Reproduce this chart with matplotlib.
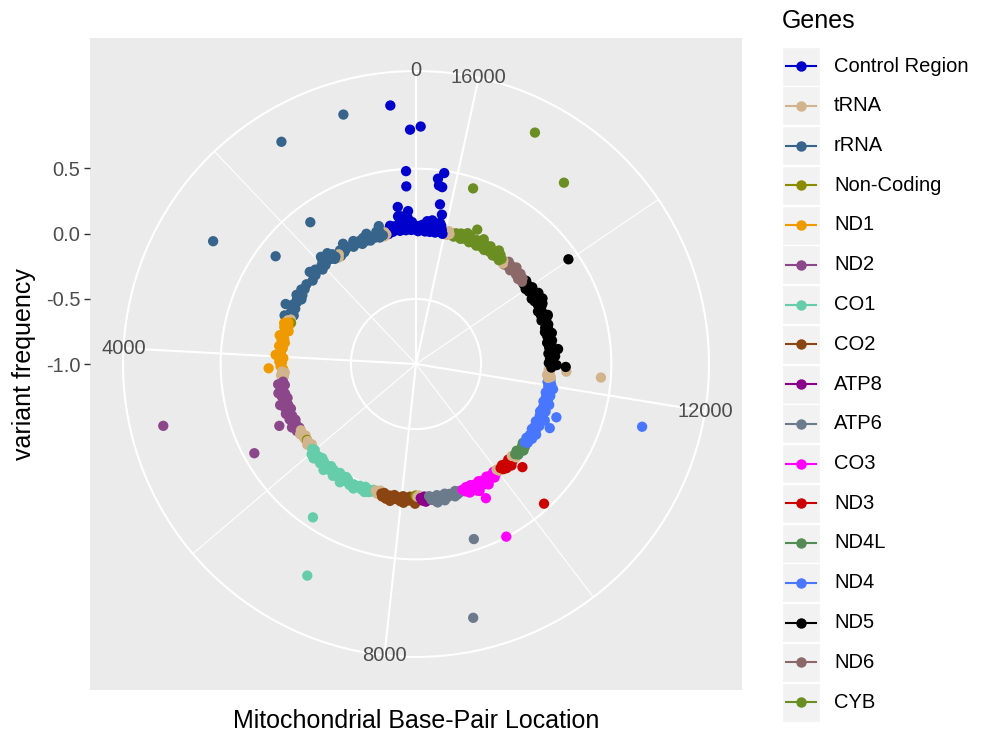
import numpy as np
import matplotlib.pyplot as plt
from matplotlib.patches import Rectangle

plt.rcParams['font.family'] = ['Liberation Sans', 'DejaVu Sans']

# mitochondrial genome length (bp), theta runs 0 -> genome_len
genome_len = 16569

gene_names = ['Control Region', 'tRNA', 'rRNA', 'Non-Coding', 'ND1', 'ND2', 'CO1', 'CO2',
              'ATP8', 'ATP6', 'CO3', 'ND3', 'ND4L', 'ND4', 'ND5', 'ND6', 'CYB']
gene_colors = ['#0000CD', '#D2B48C', '#36648B', '#8B8B00', '#EE9A00', '#8B4789', '#66CDAA',
               '#8B4513', '#8B008B', '#6C7B8B', '#FF00FF', '#CD0000', '#548B54', '#4876FF',
               '#000000', '#8B6969', '#6B8E23']

# (position, variant frequency) per gene
control = [(16040, 0.02), (16069, 0.05), (16093, 0.08), (16111, 0.03), (16116, 0.164), (16126, 0.10),
           (16145, 0.04), (16163, 0.07), (16176, 0.24), (16181, 0.373), (16182, 0.482), (16189, 0.02),
           (16209, 0.06), (16223, 0.09), (16232, 0.383), (16241, 0.03), (16256, 0.05), (16258, 0.433),
           (16271, 0.11), (16294, 0.02), (16304, 0.07), (16311, 0.04), (16319, 0.08), (16343, 0.03),
           (16355, 0.06), (16362, 0.10), (16390, 0.02), (16399, 0.05), (16428, 0.03), (16447, 0.07),
           (16482, 0.04), (16517, 0.824), (16519, 0.06), (16527, 0.02), (16544, 0.05), (16566, 0.03),
           (67, 0.80), (73, 0.09), (93, 0.03), (114, 0.06), (136, 0.483), (137, 0.176), (144, 0.366),
           (146, 0.12), (150, 0.08), (152, 0.04), (185, 0.10), (189, 0.06), (195, 0.13), (199, 0.03),
           (204, 0.07), (207, 0.05), (228, 0.11), (235, 0.04), (247, 0.08), (261, 0.995), (263, 0.14),
           (295, 0.05), (305, 0.214), (310, 0.09), (316, 0.03), (319, 0.142), (340, 0.06), (374, 0.04),
           (410, 0.07), (456, 0.03), (489, 0.08), (499, 0.04), (513, 0.06), (545, 0.02)]
trna = [(593, 0.02), (617, 0.04), (640, 0.01), (1618, 0.03), (1656, 0.01), (3243, 0.02), (3276, 0.04),
        (4290, 0.03), (4317, 0.01), (4360, 0.04), (4392, 0.02), (4440, 0.03), (5521, 0.02), (5580, 0.04),
        (5633, 0.03), (5655, 0.01), (5702, 0.03), (5773, 0.02), (5826, 0.04), (5843, 0.02), (5874, 0.01),
        (7476, 0.02), (7521, 0.04), (7562, 0.01), (8311, 0.02), (8343, 0.01), (10006, 0.02), (10034, 0.04),
        (10410, 0.02), (10446, 0.05), (12150, 0.02), (12172, 0.04), (12207, 0.01), (12234, 0.424),
        (12236, 0.03), (12292, 0.156), (12308, 0.02), (14690, 0.02), (14720, 0.04), (15904, 0.03),
        (15928, 0.05), (15944, 0.02), (15968, 0.04), (16000, 0.02)]
rrna = [(663, 0.02), (695, 0.097), (709, 0.05), (736, 0.01), (747, 0.995), (750, 0.03), (769, 0.06),
        (827, 0.02), (921, 0.04), (930, 0.01), (960, 0.07), (1005, 0.03), (1018, 0.02), (1048, 0.05),
        (1107, 0.01), (1119, 0.04), (1189, 0.03), (1243, 0.06), (1291, 0.02), (1393, 0.04), (1436, 0.995),
        (1438, 0.08), (1462, 0.03), (1503, 0.02), (1555, 0.05), (1598, 0.01), (1689, 0.358), (1700, 0.03),
        (1719, 0.06), (1736, 0.02), (1780, 0.09), (1811, 0.04), (1830, 0.07), (1888, 0.07), (1914, 0.10),
        (1927, 0.08), (1950, 0.03), (2005, 0.05), (2056, 0.02), (2098, 0.04), (2158, 0.06), (2232, 0.03),
        (2259, 0.08), (2352, 0.02), (2416, 0.359), (2483, 0.04), (2581, 0.03), (2623, 0.05), (2706, 0.02),
        (2707, 0.821), (2758, 0.06), (2789, 0.01), (2831, 0.04), (2885, 0.03), (2956, 0.05), (3005, 0.102),
        (3010, 0.02), (3106, 0.04), (3147, 0.01), (3197, 0.03), (3208, 0.076)]
noncoding = [(3306, 0.01), (5745, 0.02), (8276, 0.01)]
nd1 = [(3316, 0.03), (3348, 0.06), (3394, 0.02), (3423, 0.05), (3480, 0.01), (3552, 0.04), (3594, 0.07),
       (3645, 0.03), (3666, 0.05), (3720, 0.02), (3796, 0.06), (3834, 0.03), (3915, 0.04), (3970, 0.08),
       (4025, 0.02), (4093, 0.05), (4117, 0.03), (4188, 0.04), (4219, 0.132), (4248, 0.02)]
nd2 = [(4491, 0.03), (4529, 0.07), (4561, 0.02), (4580, 0.05), (4655, 0.04), (4694, 0.08), (4732, 0.03),
       (4769, 0.06), (4775, 0.998), (4824, 0.02), (4883, 0.05), (4917, 0.09), (4960, 0.03), (5004, 0.06),
       (5046, 0.02), (5108, 0.07), (5147, 0.04), (5186, 0.03), (5231, 0.06), (5263, 0.152), (5285, 0.02),
       (5301, 0.05), (5351, 0.03), (5390, 0.07), (5442, 0.04), (5460, 0.02), (5472, 0.418), (5493, 0.05)]
co1 = [(5951, 0.03), (5999, 0.02), (6023, 0.06), (6071, 0.04), (6104, 0.07), (6152, 0.03), (6179, 0.05),
       (6221, 0.02), (6260, 0.06), (6296, 0.03), (6366, 0.04), (6392, 0.08), (6455, 0.02), (6506, 0.05),
       (6548, 0.03), (6599, 0.07), (6662, 0.04), (6680, 0.02), (6724, 0.419), (6734, 0.06), (6755, 0.03),
       (6776, 0.08), (6827, 0.02), (6866, 0.05), (6881, 0.03), (6962, 0.06), (7028, 0.04), (7033, 0.827),
       (7055, 0.07), (7146, 0.03), (7197, 0.05), (7256, 0.02), (7274, 0.06), (7322, 0.03), (7346, 0.049),
       (7389, 0.04), (7424, 0.02)]
co2 = [(7598, 0.03), (7624, 0.05), (7650, 0.02), (7705, 0.06), (7762, 0.03), (7789, 0.07), (7805, 0.04),
       (7853, 0.02), (7864, 0.05), (7912, 0.03), (7981, 0.06), (8020, 0.04), (8027, 0.02), (8047, 0.07),
       (8080, 0.03), (8143, 0.05), (8164, 0.02), (8206, 0.04), (8251, 0.06), (8260, 0.02), (8266, 0.073)]
atp8 = [(8378, 0.03), (8410, 0.05), (8450, 0.02), (8473, 0.06), (8503, 0.03), (8526, 0.04)]
atp6 = [(8545, 0.02), (8584, 0.05), (8610, 0.03), (8655, 0.06), (8695, 0.076), (8701, 0.02), (8748, 0.04),
        (8794, 0.03), (8836, 0.07), (8860, 0.02), (8869, 0.998), (8905, 0.05), (8950, 0.03), (8994, 0.04),
        (9042, 0.06), (9071, 0.02), (9102, 0.05), (9126, 0.416), (9150, 0.03), (9190, 0.04)]
co3 = [(9221, 0.03), (9266, 0.05), (9300, 0.02), (9329, 0.07), (9380, 0.04), (9399, 0.02), (9449, 0.06),
       (9472, 0.080), (9477, 0.03), (9509, 0.09), (9540, 0.05), (9551, 0.162), (9555, 0.496), (9575, 0.02),
       (9611, 0.06), (9644, 0.03), (9698, 0.04), (9716, 0.08), (9758, 0.02), (9804, 0.05), (9839, 0.03),
       (9883, 0.06), (9926, 0.02), (9962, 0.04)]
nd3 = [(10084, 0.03), (10115, 0.05), (10143, 0.02), (10172, 0.06), (10211, 0.03), (10238, 0.04),
       (10241, 0.455), (10275, 0.07), (10310, 0.02), (10355, 0.05), (10388, 0.03), (10397, 0.138)]
nd4l = [(10480, 0.03), (10519, 0.05), (10550, 0.02), (10589, 0.04), (10640, 0.06), (10688, 0.03),
        (10720, 0.05), (10750, 0.02)]
nd4 = [(10781, 0.03), (10810, 0.05), (10873, 0.02), (10915, 0.06), (10960, 0.03), (11002, 0.04),
       (11025, 0.07), (11080, 0.02), (11119, 0.05), (11152, 0.03), (11200, 0.06), (11248, 0.139),
       (11251, 0.02), (11299, 0.04), (11335, 0.08), (11380, 0.03), (11428, 0.05), (11467, 0.02),
       (11470, 0.153), (11500, 0.06), (11551, 0.03), (11590, 0.04), (11641, 0.07), (11674, 0.02),
       (11713, 0.802), (11719, 0.05), (11776, 0.03), (11812, 0.06), (11860, 0.02), (11914, 0.04),
       (11947, 0.07), (11986, 0.03), (12026, 0.05), (12071, 0.02), (12108, 0.04)]
nd5 = [(12358, 0.04), (12375, 0.150), (12406, 0.08), (12447, 0.02), (12501, 0.05), (12531, 0.03),
       (12574, 0.07), (12609, 0.04), (12633, 0.02), (12681, 0.06), (12703, 0.097), (12753, 0.03),
       (12810, 0.05), (12850, 0.02), (12879, 0.06), (12930, 0.04), (12977, 0.03), (13020, 0.07),
       (13065, 0.02), (13105, 0.05), (13145, 0.03), (13194, 0.06), (13260, 0.04), (13305, 0.02),
       (13347, 0.074), (13368, 0.08), (13405, 0.03), (13434, 0.05), (13500, 0.02), (13563, 0.06),
       (13605, 0.077), (13617, 0.04), (13650, 0.07), (13688, 0.094), (13708, 0.03), (13759, 0.05),
       (13780, 0.02), (13815, 0.087), (13828, 0.06), (13880, 0.04), (13928, 0.03), (13966, 0.07),
       (14008, 0.02), (14014, 0.420), (14070, 0.05), (14110, 0.03), (14133, 0.06)]
nd6 = [(14167, 0.03), (14212, 0.05), (14258, 0.02), (14305, 0.06), (14350, 0.03), (14398, 0.04),
       (14445, 0.07), (14492, 0.02), (14540, 0.05), (14582, 0.03), (14625, 0.06), (14660, 0.02)]
cyb = [(14764, 0.797), (14766, 0.04), (14793, 0.02), (14831, 0.06), (14872, 0.03), (14905, 0.08),
       (14950, 0.02), (14988, 0.05), (15043, 0.03), (15079, 0.07), (15112, 0.04), (15148, 0.02),
       (15190, 0.06), (15218, 0.03), (15257, 0.09), (15301, 0.04), (15317, 0.998), (15326, 0.02),
       (15361, 0.06), (15400, 0.03), (15441, 0.134), (15452, 0.05), (15487, 0.02), (15511, 0.07),
       (15535, 0.04), (15578, 0.08), (15607, 0.03), (15629, 0.05), (15670, 0.02), (15693, 0.06),
       (15734, 0.03), (15740, 0.418), (15784, 0.05), (15812, 0.02), (15850, 0.04), (15874, 0.03)]

gene_points = [control, trna, rrna, noncoding, nd1, nd2, co1, co2, atp8, atp6, co3, nd3, nd4l, nd4,
               nd5, nd6, cyb]

theta_breaks = [0, 4000, 8000, 12000, 16000]
theta_minor = [2000, 6000, 10000, 14000]
r_breaks = [-1.0, -0.5, 0.0, 0.5]

# gather all points, drawn in position order
rows = []
for pts, col in zip(gene_points, gene_colors):
    for p, v in pts:
        rows.append((p, v, col))
rows.sort(key=lambda t: t[0])
pos = np.array([r[0] for r in rows])
val = np.array([r[1] for r in rows])
cols = [r[2] for r in rows]

W, H = 985, 736
fig = plt.figure(figsize=(W / 100, H / 100), dpi=100)

# gray square panel + the r axis on its left (ggplot coord_polar look)
bg = fig.add_axes([90 / W, (H - 690) / H, 652 / W, 652 / H])
bg.set_facecolor('#EBEBEB')
bg.set_xlim(0, 1)
bg.set_ylim(-3.5, 1.5)
bg.set_xticks([])
bg.set_yticks(r_breaks)
bg.set_yticklabels(['%.1f' % b for b in r_breaks])
bg.tick_params(axis='y', length=4, width=1, color='#333333', labelcolor='#4D4D4D', labelsize=14.5, pad=3)
for s in bg.spines.values():
    s.set_visible(False)
bg.set_ylabel('variant frequency', fontsize=18, labelpad=7)
bg.set_xlabel('Mitochondrial Base-Pair Location', fontsize=18, labelpad=14)

# polar axes: r=-1 at centre, outer circle at 0.45 of panel
ax = fig.add_axes([123 / W, 79 / H, 586 / W, 586 / H], projection='polar')
ax.set_facecolor('none')
ax.set_theta_zero_location('N')
ax.set_theta_direction(1)
ax.set_rlim(-1.0, 1.25)
ax.set_xticks(np.array(theta_breaks) / genome_len * 2 * np.pi)
ax.set_xticklabels([])
ax.set_xticks(np.array(theta_minor) / genome_len * 2 * np.pi, minor=True)
ax.set_yticks([-0.5, 0.0, 0.5])
ax.set_yticklabels([])
ax.tick_params(which='both', length=0)
ax.xaxis.grid(True, which='major', color='white', lw=1.5)
ax.xaxis.grid(True, which='minor', color='white', lw=0.8)
ax.yaxis.grid(True, color='white', lw=1.5)
ax.spines['polar'].set_color('white')
ax.spines['polar'].set_linewidth(1.5)
ax.set_axisbelow(True)

for b in theta_breaks:
    ax.text(b / genome_len * 2 * np.pi, 1.25, str(b), ha='center', va='center',
            fontsize=14.5, color='#4D4D4D')

ax.scatter(pos / genome_len * 2 * np.pi, val, s=55, c=cols, linewidths=0, zorder=3)

# legend drawn as ggplot-style keys
lg = fig.add_axes([0, 0, 1, 1])
lg.set_xlim(0, W)
lg.set_ylim(H, 0)
lg.axis('off')
lg.text(782, 21, 'Genes', fontsize=18, va='center', ha='left')
for i, (name, col) in enumerate(zip(gene_names, gene_colors)):
    yc = 66 + i * 39.75
    lg.add_patch(Rectangle((782, yc - 19.5), 38, 39, facecolor='#F2F2F2', edgecolor='white', lw=1))
    lg.plot([786, 816], [yc, yc], color=col, lw=1.5)
    lg.plot([801], [yc], 'o', color=col, ms=6.5)
    lg.text(834, yc, name, fontsize=14.5, va='center', ha='left')

fig.savefig('out.png', dpi=100)
